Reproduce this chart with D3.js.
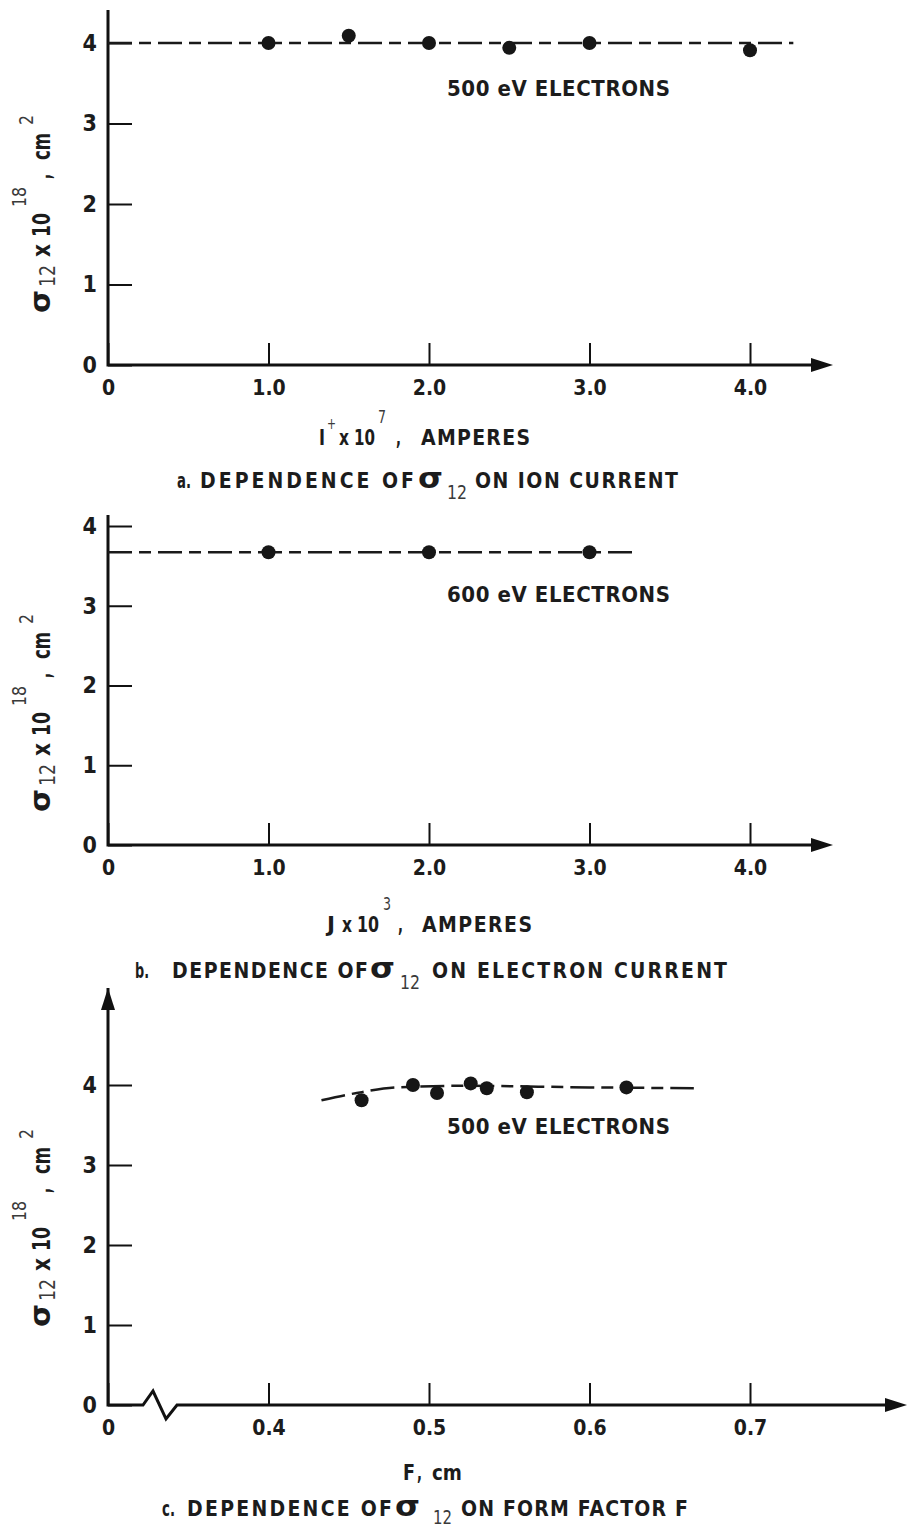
<!DOCTYPE html>
<html>
<head>
<meta charset="utf-8">
<script src="https://cdn.jsdelivr.net/npm/d3@7/dist/d3.min.js"></script>
<style>
  body { margin: 0; background: #fff; }
  svg text { font-family: "Liberation Sans Narrow", "DejaVu Sans Condensed", "Arial Narrow", sans-serif; font-weight: bold; fill: #1c1c1c; }
  svg text.lt { font-weight: normal; fill: #3a3a3a; }
  .xax .tick text { font-size: 21px; }
  .yax .tick text { font-size: 23px; }
  .tick line { stroke: #111; stroke-width: 2; }
</style>
</head>
<body>
<svg id="chart" width="909" height="1530"></svg>
<script>
// a. sigma_12 vs ion current (I+ x 10^7, amperes), 500 eV electrons
var ionCurrent = [1.0, 1.5, 2.0, 2.5, 3.0, 4.0];
var sigmaIon   = [4.0, 4.09, 4.0, 3.94, 4.0, 3.91];
var ionFitX = [0, 4.27];
var ionFitY = [4.0, 4.0];

// b. sigma_12 vs electron current (J x 10^3, amperes), 600 eV electrons
var elecCurrent = [1.0, 2.0, 3.0];
var sigmaElec   = [3.67, 3.67, 3.67];
var elecFitX = [0, 3.27];
var elecFitY = [3.67, 3.67];

// c. sigma_12 vs form factor F (cm), 500 eV electrons
var formFactor = [0.458, 0.490, 0.505, 0.526, 0.536, 0.561, 0.623];
var sigmaForm  = [3.81, 4.00, 3.90, 4.02, 3.96, 3.91, 3.97];
var formFitX = [0.433, 0.455, 0.48, 0.52, 0.60, 0.665];
var formFitY = [3.81, 3.90, 3.97, 3.99, 3.97, 3.96];

// ticks
var currentTicks = [0, 1.0, 2.0, 3.0, 4.0];
var formTicks    = [0.3, 0.4, 0.5, 0.6, 0.7];   // 0.3 sits at the broken origin, labelled "0"
var sigmaTicks   = [0, 1, 2, 3, 4];

var svg = d3.select("#chart");

var panels = [
  { xDomain: [0, 4], xTicks: currentTicks, fmt: function(d) { return d === 0 ? "0" : d3.format(".1f")(d); },
    yZero: 365, yFour: 43, yTop: 10, xEnd: 833, arrowY: false, brk: false,
    xs: ionCurrent, ys: sigmaIon, fitX: ionFitX, fitY: ionFitY, curve: d3.curveLinear,
    note: "500 eV ELECTRONS", noteY: 96, titleY: 445, yTitleStart: 313,
    title: [{t: "I", x: 319, len: 6}, {t: "+", x: 327, dy: -16, lt: true, size: 15, len: 9},
            {t: "x", x: 339, len: 10}, {t: "10", x: 354, len: 21},
            {t: "7", x: 378, dy: -22, lt: true, size: 18, len: 8}, {t: ",", x: 396, len: 5},
            {t: "AMPERES", x: 421, len: 109}],
    capY: 488,
    caption: [{t: "a.", x: 177, len: 14}, {t: "DEPENDENCE OF", x: 200, len: 214},
              {t: "\u03c3", x: 418, size: 28, len: 25},
              {t: "12", x: 447, dy: 11, lt: true, size: 20, len: 20}, {t: "ON ION CURRENT", x: 475, len: 203}] },
  { xDomain: [0, 4], xTicks: currentTicks, fmt: function(d) { return d === 0 ? "0" : d3.format(".1f")(d); },
    yZero: 845, yFour: 526, yTop: 515, xEnd: 833, arrowY: false, brk: false,
    xs: elecCurrent, ys: sigmaElec, fitX: elecFitX, fitY: elecFitY, curve: d3.curveLinear,
    note: "600 eV ELECTRONS", noteY: 602, titleY: 932, yTitleStart: 812,
    title: [{t: "J", x: 327, len: 8}, {t: "x", x: 342, len: 10}, {t: "10", x: 357, len: 22},
            {t: "3", x: 383, dy: -22, lt: true, size: 18, len: 8}, {t: ",", x: 398, len: 5},
            {t: "AMPERES", x: 422, len: 110}],
    capY: 978,
    caption: [{t: "b.", x: 135, len: 14}, {t: "DEPENDENCE OF", x: 172, len: 196},
              {t: "\u03c3", x: 370, size: 28, len: 25},
              {t: "12", x: 400, dy: 11, lt: true, size: 20, len: 20}, {t: "ON ELECTRON CURRENT", x: 432, len: 295}] },
  { xDomain: [0.3, 0.7], xTicks: formTicks, fmt: function(d) { return d === 0.3 ? "0" : d3.format(".1f")(d); },
    yZero: 1405, yFour: 1085, yTop: 988, xEnd: 907, arrowY: true, brk: true,
    xs: formFactor, ys: sigmaForm, fitX: formFitX, fitY: formFitY, curve: d3.curveMonotoneX,
    note: "500 eV ELECTRONS", noteY: 1134, titleY: 1480, yTitleStart: 1327,
    title: [{t: "F", x: 403, len: 12}, {t: ",", x: 417, len: 5}, {t: "cm", x: 432, len: 30}],
    capY: 1516,
    caption: [{t: "c.", x: 162, len: 13}, {t: "DEPENDENCE OF", x: 187, len: 205},
              {t: "\u03c3", x: 395, size: 28, len: 25},
              {t: "12", x: 433, dy: 8, lt: true, size: 19, len: 19}, {t: "ON FORM FACTOR F", x: 461, len: 227}] }
];

panels.forEach(drawPanel);

// write a row of text pieces along one baseline; short pieces are squeezed to
// their width (narrow type), long ones get letter spacing
function pieces(g, list, y, size) {
  list.forEach(function(p) {
    var t = g.append("text")
      .attr("x", p.x)
      .attr("y", y + (p.dy || 0))
      .style("font-size", (p.size || size) + "px")
      .classed("lt", !!p.lt)
      .text(p.t);
    if (p.len) {
      t.attr("textLength", p.len)
       .attr("lengthAdjust", p.t.length > 4 ? "spacing" : "spacingAndGlyphs");
    }
  });
}

function drawPanel(p) {
  var g = svg.append("g");
  var x0 = 108;

  var x = d3.scaleLinear().domain(p.xDomain).range([x0, 750]);
  var y = d3.scaleLinear().domain([0, 4]).range([p.yZero, p.yFour]);

  // axis ticks + labels (domain path replaced by hand-drawn axes below)
  g.append("g")
    .attr("class", "xax")
    .attr("transform", "translate(0," + p.yZero + ")")
    .call(d3.axisBottom(x).tickValues(p.xTicks).tickFormat(p.fmt)
      .tickSizeInner(-22).tickSizeOuter(0).tickPadding(15))
    .call(function(a) { a.select(".domain").remove(); });

  g.append("g")
    .attr("class", "yax")
    .attr("transform", "translate(" + x0 + ",0)")
    .call(d3.axisLeft(y).tickValues(sigmaTicks).tickFormat(d3.format("d"))
      .tickSizeInner(-24).tickSizeOuter(0).tickPadding(11))
    .call(function(a) { a.select(".domain").remove(); });

  // axes lines
  var axisPts = [[x0, p.yTop], [x0, p.yZero]];
  if (p.brk) {
    axisPts = axisPts.concat([[143, p.yZero], [153, p.yZero - 14], [166, p.yZero + 14], [177, p.yZero]]);
  }
  axisPts.push([p.xEnd - 18, p.yZero]);
  g.append("path")
    .attr("d", d3.line()(axisPts))
    .attr("fill", "none")
    .attr("stroke", "#111")
    .attr("stroke-width", 3)
    .attr("stroke-linejoin", "miter");

  // arrow heads
  g.append("path")
    .attr("d", "M" + p.xEnd + "," + p.yZero + " L" + (p.xEnd - 22) + "," + (p.yZero - 7) +
               " L" + (p.xEnd - 22) + "," + (p.yZero + 7) + "Z")
    .attr("fill", "#111");
  if (p.arrowY) {
    g.append("path")
      .attr("d", "M" + x0 + "," + p.yTop + " L" + (x0 - 7) + "," + (p.yTop + 22) +
                 " L" + (x0 + 7) + "," + (p.yTop + 22) + "Z")
      .attr("fill", "#111");
  }

  // dashed fit line
  var fit = p.fitX.map(function(d, i) { return [d, p.fitY[i]]; });
  g.append("path")
    .datum(fit)
    .attr("d", d3.line().x(function(d) { return x(d[0]); }).y(function(d) { return y(d[1]); }).curve(p.curve))
    .attr("fill", "none")
    .attr("stroke", "#1a1a1a")
    .attr("stroke-width", 2.5)
    .attr("stroke-dasharray", "24,7,12,7");

  // measured points
  g.selectAll("circle.pt")
    .data(p.xs.map(function(d, i) { return [d, p.ys[i]]; }))
    .enter().append("circle")
    .attr("class", "pt")
    .attr("cx", function(d) { return x(d[0]); })
    .attr("cy", function(d) { return y(d[1]); })
    .attr("r", 7)
    .attr("fill", "#161616");

  // in-plot note
  g.append("text")
    .attr("x", 447)
    .attr("y", p.noteY)
    .style("font-size", "22px")
    .attr("textLength", 223)
    .attr("lengthAdjust", "spacing")
    .text(p.note);

  // x title and caption
  pieces(g, p.title, p.titleY, 21);
  pieces(g, p.caption, p.capY, 21);

  // rotated y title: sigma_12 x 10^18 , cm^2
  var yt = g.append("g").attr("transform", "translate(50," + p.yTitleStart + ") rotate(-90)");
  pieces(yt, [
    {t: "\u03c3", x: 0, size: 28, len: 23},
    {t: "12", x: 26, dy: 5, lt: true, size: 21, len: 22},
    {t: "x", x: 56, len: 13},
    {t: "10", x: 76, len: 24},
    {t: "18", x: 106, dy: -24, lt: true, size: 20, len: 20},
    {t: ",", x: 134, len: 5},
    {t: "cm", x: 153, len: 27},
    {t: "2", x: 188, dy: -17, lt: true, size: 20, len: 10}
  ], 0, 24);
}
</script>
</body>
</html>
